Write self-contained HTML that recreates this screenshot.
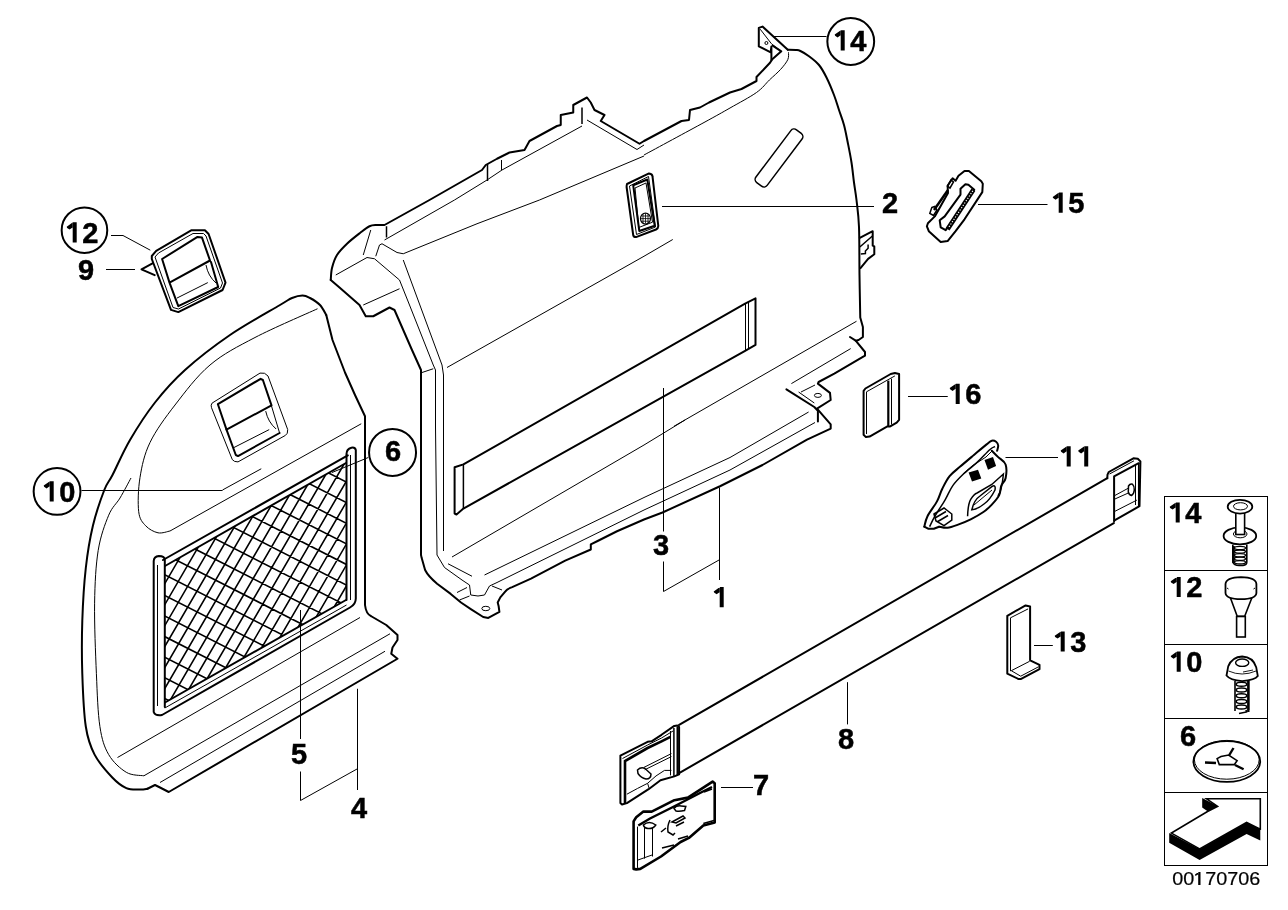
<!DOCTYPE html>
<html><head><meta charset="utf-8"><style>
html,body{margin:0;padding:0;background:#fff;width:1288px;height:910px;overflow:hidden}
svg{position:absolute;left:0;top:0;will-change:transform}
text{font-family:"Liberation Sans",sans-serif;font-weight:bold;fill:#000;stroke:#000;stroke-width:0.5}
.o{fill:none;stroke:#000;stroke-width:2;stroke-linejoin:round;stroke-linecap:round}
.i{fill:none;stroke:#000;stroke-width:1}
.t{fill:none;stroke:#000;stroke-width:1.5}
.k{fill:#000;stroke:none}
</style></head><body>
<svg width="1288" height="910" viewBox="0 0 1288 910">
<!-- CENTER PANEL (1) -->
<g id="center">
<path class="o" d="M330.75,280.00 C330.96,278.00 330.96,272.17 332.00,268.00 C333.04,263.83 334.50,259.04 337.00,255.00 C339.50,250.96 343.17,247.42 347.00,243.75 C350.83,240.08 356.25,235.92 360.00,233.00 C363.75,230.08 366.67,227.58 369.50,226.25 C372.33,224.92 374.50,225.21 377.00,225.00 C379.50,224.79 383.25,225.00 384.50,225.00 L429.5,200 L482,170 L485.75,165 L497,158.75 L509.5,152.5 L524.5,150 L529.5,141 L557,126 L560.75,125 L560.75,115 L573.25,112.5 L573.25,105 L587,97.5 L590.75,102.5 L594.5,110 L604.5,115 L600.75,121 L639.5,143.75 L644,141 L681.5,121 L689,120 L690,110 L700,107.5 L709,102.5 L730,92.5 L741.5,89 L756.5,81 L756.5,77 L770,62.8 L772,59.6 L781.3,51.3 L772.7,45.7"/>
<path class="o" d="M771.4,60 L771.4,46.4 L770.7,52.3 L758.8,46.4 L758.8,27.9 L762.5,26.6 L787.8,49.7"/>
<path class="o" d="M787.80,49.70 C789.13,49.75 793.70,49.78 795.80,50.00 C797.90,50.22 798.20,49.96 800.40,51.00 C802.60,52.04 805.90,53.92 809.00,56.25 C812.10,58.58 816.08,61.46 819.00,65.00 C821.92,68.54 824.00,72.50 826.50,77.50 C829.00,82.50 831.92,89.58 834.00,95.00 C836.08,100.42 837.33,105.00 839.00,110.00 C840.67,115.00 842.54,119.58 844.00,125.00 C845.46,130.42 846.50,136.25 847.75,142.50 C849.00,148.75 850.46,155.83 851.50,162.50 C852.54,169.17 853.17,176.25 854.00,182.50 C854.83,188.75 855.67,192.58 856.50,200.00 C857.33,207.42 858.50,214.50 859.00,227.00 C859.50,239.50 859.29,259.92 859.50,275.00 C859.71,290.08 860.12,310.42 860.25,317.50 L862.9,327 L862.9,337 L858.6,340 L855.7,340.7 L850,337"/>
<path class="o" d="M855.7,340.7 L865,352 L865,355.7 L834.3,373.6 L818.6,382 L817.9,383.6 L830,392.9 L830.7,400 L817,408.6 L830.7,424.3 L830.7,428.6 L807,439.7 L762.5,465 L720,486.25 L662.5,512.5 L644,519.5 L617,531.25 L597.6,541 L590.8,544.4 L590.8,549.5 L565.2,560.6 L531,578.6 L512.2,587.1 Q507,589 505.4,591.4 L500.3,597.4 L497.7,602.5 L498.6,605.9 L499.4,611.9 L488.3,617.9 L483.2,617 L471.2,609.3 L461,602.5 L450.7,593.9 L437.1,583.7 Q428,576 425.1,570 L421.7,558.1 L421,555 L421,370 L412,350 L394.5,310 L389.5,307.5 L373.25,316.25 L365.75,316.25 L359.5,305 L339.5,287.5 L330.75,280"/>
<path class="o" d="M786.4,389.3 L814.3,407 L817.9,410.7 L817.9,421.4"/>
<ellipse cx="817.9" cy="395.4" rx="3.5" ry="2" class="i"/>
<ellipse cx="485.8" cy="608.5" rx="4" ry="2.2" class="i"/>
<path class="i" d="M335.75,275 L367,257.5 L374.5,258.75 L399.5,280 L409.5,305 L433.25,365 L435.5,370 L435.5,427 L437,555 L444.5,567.5 L462,580 L469.5,585 L470.75,595 L478,596 L484.5,595 L489.5,586 L497,582.5 L644,510 L730,470 L815,422.5"/>
<path class="i" d="M363.25,305 L399.5,288.75"/>
<path class="i" d="M363.25,255 L370.75,230"/>
<path class="t" d="M386.5,226.25 L386.5,237.5"/>
<path class="i" d="M375.75,256.25 L379.5,245 L382,243.75 L397,252.5 L403.25,253.75 L477,223.75 L539.5,200 L644,156"/>
<path class="i" d="M403.25,260 L442,365 L443.5,375 L443.5,551"/>
<path class="i" d="M422,372.5 L433.25,368.75"/>
<path class="i" d="M384.5,240 L454.5,200 L487,180 L502,170 L582,126"/>
<path class="i" d="M788.50,52.30 C788.38,53.52 789.12,56.75 787.80,59.60 C786.48,62.45 783.67,66.00 780.60,69.40 C777.53,72.80 773.42,76.15 769.40,80.00 C765.38,83.85 763.07,87.83 756.50,92.50 C749.93,97.17 738.75,103.00 730.00,108.00 C721.25,113.00 718.33,114.67 704.00,122.50 C689.67,130.33 654.00,149.58 644.00,155.00"/>
<path class="t" d="M487.5,164 L487.5,181"/>
<path class="i" d="M501.5,160 L501.5,170"/>
<path class="t" d="M582,107.5 L582,124"/>
<path class="i" d="M587,120 L637,149.5 L644,145"/>
<path class="i" d="M447,367.5 L644,256.25 L672.75,239.5"/>
<path class="i" d="M452,557 L644,445 L685,420"/>
<path class="i" d="M448,563.75 L472,576.25"/>
<path class="i" d="M484.5,575 L644,497.5 L730,457.5 L808.6,412"/>
<path class="i" d="M457,592.5 L467,587.5 M459.5,600 L469.5,596 M492,586 L502,590"/>
<path class="i" d="M674,426.25 L856.5,321.25"/>
<path class="i" d="M791.4,383.6 L850.7,348.6"/>
<path class="i" d="M798.6,392 L814.3,403 M801,392 L815,385"/>

<path class="o" d="M859.8,237.8 L872.7,231.2 L872.7,245.7 L874.3,246.4 L874.3,254.3 L868.1,258.9 L860.5,268.1"/>
<path class="t" d="M859.8,247 L872.7,235.8 M868.1,244.4 L868.1,248.3 L865.4,251 L865.4,253.6 L860.8,253.9"/>
<rect x="-7" y="-33" width="14" height="66" rx="4" class="t" transform="translate(779,158) rotate(37)"/>
<path class="o" d="M463.4,464.4 L745.1,303.6 L755.5,298.3 L755.5,344.9 L745.1,350.8 L463.4,508.6 L456.5,514.5 L454.6,513.5 L454.6,467.3 Z"/>
<path class="t" d="M463.4,464.4 L463.4,508.6"/><path class="i" d="M745.5,303.6 L745.5,350.8 M748.5,302 L748.5,349"/>
<path class="i" d="M760.2,29.2 L771.4,43.7 L781.3,51.6"/>
<circle cx="766.4" cy="43" r="1.5" class="i"/>
<!-- item 2 -->
<path class="o" d="M627,184 L649,173.4 Q652.5,174 652.5,176.4 L658.3,226 Q658.3,228.3 656,229.5 L636,237.1 Q633.5,237 633.2,235 L626.6,187 Q626.6,185 627,184 Z"/>
<path class="i" d="M629.5,186 L648.5,176.5 L655.5,227 L636.5,234.5 Z"/>
<path class="o" d="M633.2,185.2 L647.3,179.5 L654.7,225.7 L639.3,231 Z"/>
<path class="i" d="M635,188 L646,183 L652.5,222.2 L638.8,227.5 Z"/>
<ellipse cx="645.5" cy="218.6" rx="5" ry="5.5" fill="#fff" stroke="#000" stroke-width="1.2"/><path d="M641.5,216 h8 M641,218.6 h9 M641.5,221.2 h8 M643,214 v9 M645.5,213.5 v10 M648,214 v9" stroke="#000" stroke-width="0.8" fill="none"/>
</g>
<!-- LEFT PANEL (4) -->
<g id="left">
<path class="o" d="M326.25,315.00 C325.21,313.33 322.71,307.83 320.00,305.00 C317.29,302.17 312.92,299.58 310.00,298.00 C307.08,296.42 305.50,295.50 302.50,295.50 C299.50,295.50 295.75,296.42 292.00,298.00 C288.25,299.58 290.33,298.83 280.00,305.00 C269.67,311.17 245.83,324.17 230.00,335.00 C214.17,345.83 197.50,358.75 185.00,370.00 C172.50,381.25 164.17,390.83 155.00,402.50 C145.83,414.17 137.08,427.92 130.00,440.00 C122.92,452.08 116.78,466.67 112.50,475.00 C108.22,483.33 107.57,481.53 104.30,490.00 C101.03,498.47 95.98,512.80 92.90,525.80 C89.82,538.80 87.57,552.17 85.80,568.00 C84.03,583.83 82.88,603.18 82.30,620.80 C81.72,638.42 81.72,656.08 82.30,673.70 C82.88,691.32 83.75,713.02 85.80,726.50 C87.85,739.98 90.18,746.10 94.60,754.60 C99.02,763.10 107.02,771.92 112.30,777.50 C117.58,783.08 121.68,786.10 126.30,788.10 C130.92,790.10 136.47,789.39 140.00,789.50 C143.53,789.61 146.25,788.88 147.50,788.75"/>
<path class="o" d="M326.25,315 L332.5,340 L345,372.5 L355,395 L365,416.25 L365,605 Q366,614 371.25,616.25 L386.25,625 L397.5,635 L397.5,640 L392.5,647.5 L391.25,653.75 L397.5,658.75 L168.75,792 L160,787.5 L155,785 L147.5,788.75"/>
<path class="i" d="M317.50,308.75 C307.08,313.54 272.92,328.12 255.00,337.50 C237.08,346.88 223.33,353.75 210.00,365.00 C196.67,376.25 185.00,392.08 175.00,405.00 C165.00,417.92 155.83,430.42 150.00,442.50 C144.17,454.58 141.88,465.97 140.00,477.50 C138.12,489.03 137.75,503.65 138.70,511.70 C139.65,519.75 142.48,522.28 145.70,525.80 C148.92,529.32 153.95,531.93 158.00,532.80 C162.05,533.67 168.00,531.30 170.00,531.00 L361.25,423.75"/>
<path class="i" d="M222.5,490 L261.25,468.75"/>
<path class="i" d="M131.00,478.00 C129.17,481.33 123.72,491.80 120.00,498.00 C116.28,504.20 112.33,506.47 108.70,515.20 C105.07,523.93 100.55,535.73 98.20,550.40 C95.85,565.07 94.90,582.65 94.60,603.20 C94.30,623.75 95.52,653.15 96.40,673.70 C97.28,694.25 97.85,713.02 99.90,726.50 C101.95,739.98 104.30,746.97 108.70,754.60 C113.10,762.23 120.43,768.77 126.30,772.30 C132.17,775.83 140.97,775.22 143.90,775.80 L390,633.75"/>
<path class="i" d="M117.5,757.5 L360,617.5"/>
<path class="i" d="M160,782.5 L385,651.25"/>
<!-- pocket -->
<path class="i" d="M212.1,403.1 L260,373.1 Q265,372 268,376 L287.7,429.6 Q288,434 285.4,435.4 L238,461.9 Q234,462 232.3,459.6 L211.5,407.7 Q210.5,405 212.1,403.1 Z"/>
<path class="o" d="M217.9,404.2 L260.6,378.8 L262.9,380 L271.5,405.4 L226.5,429.6 Z"/>
<path class="o" d="M226.5,429.6 L235.8,455 L238,456.1 L279.6,433"/><path class="i" d="M279.6,433 L271.5,406"/>
<path class="i" d="M234,447.5 L269.2,429.6 M265.7,411.1 Q268,422 276.1,429"/>
<!-- net -->
<clipPath id="netclip"><path d="M165,566 L346,463 L346,600 L165,702.5 Z"/></clipPath>
<path clip-path="url(#netclip)" d="M150,320.1 L360,427.2 M150,340.7 L360,447.8 M150,361.3 L360,468.4 M150,381.9 L360,489.0 M150,402.5 L360,509.6 M150,423.1 L360,530.2 M150,443.7 L360,550.8 M150,464.3 L360,571.4 M150,484.9 L360,592.0 M150,505.5 L360,612.6 M150,526.1 L360,633.2 M150,546.7 L360,653.8 M150,567.3 L360,674.4 M150,587.9 L360,695.0 M150,608.5 L360,715.6 M150,629.1 L360,736.2 M150,649.7 L360,756.8 M150,670.3 L360,777.4 M150,690.9 L360,798.0 M150,711.5 L360,818.6 M150,732.1 L360,839.2 M150,752.7 L360,859.8 M89.7,440 L-73.1,720 M101.9,440 L-60.9,720 M114.1,440 L-48.7,720 M126.3,440 L-36.5,720 M138.5,440 L-24.3,720 M150.7,440 L-12.1,720 M162.9,440 L0.1,720 M175.1,440 L12.3,720 M187.3,440 L24.5,720 M199.5,440 L36.7,720 M211.7,440 L48.9,720 M223.9,440 L61.1,720 M236.1,440 L73.3,720 M248.3,440 L85.5,720 M260.5,440 L97.7,720 M272.7,440 L109.9,720 M284.9,440 L122.1,720 M297.1,440 L134.3,720 M309.3,440 L146.5,720 M321.5,440 L158.7,720 M333.7,440 L170.9,720 M345.9,440 L183.1,720 M358.1,440 L195.3,720 M370.3,440 L207.5,720 M382.5,440 L219.7,720 M394.7,440 L231.9,720 M406.9,440 L244.1,720 M419.1,440 L256.3,720 M431.3,440 L268.5,720 M443.5,440 L280.7,720 M455.7,440 L292.9,720 M467.9,440 L305.1,720 M480.1,440 L317.3,720 M492.3,440 L329.5,720 M504.5,440 L341.7,720 M516.7,440 L353.9,720 M528.9,440 L366.1,720 M541.1,440 L378.3,720 M553.3,440 L390.5,720 M565.5,440 L402.7,720 M577.7,440 L414.9,720 M589.9,440 L427.1,720 M602.1,440 L439.3,720 M614.3,440 L451.5,720 M626.5,440 L463.7,720 M638.7,440 L475.9,720 M650.9,440 L488.1,720 M663.1,440 L500.3,720 M675.3,440 L512.5,720 M687.5,440 L524.7,720" fill="none" stroke="#000" stroke-width="1.6"/>
<path class="o" d="M165,566 L346,463 M165,702.5 L346,600"/>
<path class="o" d="M163,560 L347.8,455.4"/>
<path class="o" d="M153.7,712 L153.7,561 Q154,556.5 158.8,556 Q164.8,556 164.8,560 L164.8,707 M153.7,712 Q155,716 162,715 L350,607.5 Q356,604 355.8,598 L355.8,450 Q355,447 351.4,447.7 Q346.5,449 346.5,454 L346.5,600"/>
<path class="i" d="M157.5,565 L157.5,706 M350.5,455 L350.5,600 M164.8,708 L346.5,605"/>
</g>
<!-- item 12 / 9 -->
<g id="i12">
<path class="o" d="M151.8,256 L156.2,250.9 L191.6,230.2 L204.9,230.2 L208.6,234 L225.5,282.6 L222.6,290 L178.3,312.1 L171,309.9 L151.8,259 Z"/>
<path class="i" d="M155,257 L158.5,253 L193,233.5 L203.5,233.5 L206,236 L222.5,283 L220.5,288 L178.5,309 L173,307.5 Z"/>
<path class="o" d="M162.1,259 L197.5,236.9 L202,237.6 L210,260.5 L169.5,282.6 Z M169.5,282.6 L178.3,306.2 L218.2,287 L211,262"/>
<path class="i" d="M176.9,298.1 L207.8,282.6 M206,265 Q208,276 216,283"/>
<path class="o" d="M152.5,263.4 L141.5,269.3 L154.7,275.2"/>
</g>
<!-- item 15 -->
<g id="i15">
<path class="o" d="M958.5,175.8 L964.5,170.9 L968.9,170.9 L981.3,181.3 L982.8,183.7 L982.3,192.1 L964.5,219.3 L955.6,231.2 L947.6,241.1 L940.7,242.1 L928.8,231.2 L926.9,226.3 L927.9,223.3 L934.8,216.4 L948,193 L947.6,185.7 L952.6,178.3 L955.6,180.8 Z"/>
<path class="o" d="M960.5,188.7 L965.4,184.2 L968.4,184.7 L974.3,189.7 L945.7,230.2 L940.7,227.3 L939.7,220.3 L944.7,216.4 L960.5,194.6 Z"/>
<path d="M973.4,189.7 L947.6,229.2" stroke="#000" stroke-width="4.6" fill="none"/>
<path d="M972.8,190.8 L948.3,228" stroke="#fff" stroke-width="1.2" stroke-dasharray="1.2 1.6" fill="none"/>
<path class="t" d="M931.8,207.5 L934.8,206.5 L937,210 L933.5,215.5 L929.8,213.4 Z M951,180 L953.5,182 L950,188 L947.5,186 Z"/>
<path d="M934,210 L948,190" stroke="#000" stroke-width="2.5"/>
</g>
<!-- item 16 -->
<g id="i16">
<path class="o" d="M863.6,390.8 L865.4,388.5 L890.7,374 L894.9,373.1 L899.1,374 L899.1,419.8 L896.7,422.6 L890.2,426.4 L887.4,426.4 L869.6,436.6 L865.9,437.1 L863.6,434.8 Z"/>
<path class="i" d="M866.5,434 L866.5,391.8 L894.9,375.9 M891.5,378.7 L891.5,424.5"/>
<path d="M888.3,380.6 L888.3,426.4" stroke="#000" stroke-width="2.2"/>
</g>
<!-- item 11 -->
<g id="i11">
<path class="o" d="M924.30,526.70 C924.83,524.95 925.38,520.42 927.50,516.20 C929.62,511.98 934.53,505.98 937.00,501.40 C939.47,496.82 940.20,492.92 942.30,488.70 C944.40,484.48 946.62,479.78 949.60,476.10 C952.58,472.42 956.15,470.12 960.20,466.60 C964.25,463.08 969.50,458.70 973.90,455.00 C978.30,451.30 983.62,446.78 986.60,444.40 C989.58,442.02 990.22,441.13 991.80,440.70 C993.38,440.27 995.03,441.00 996.10,441.80 C997.17,442.60 998.03,444.00 998.20,445.50 C998.37,447.00 997.28,449.92 997.10,450.80"/>
<path class="o" d="M939.1,526.7 L933.8,528.8 L928.5,528.8 L924.3,526.7"/>
<path class="t" d="M929.60,526.70 C930.48,524.95 932.27,520.77 934.90,516.20 C937.53,511.63 942.42,504.40 945.40,499.30 C948.38,494.20 949.80,489.82 952.80,485.60 C955.80,481.38 959.35,477.87 963.40,474.00 C967.45,470.13 972.72,466.45 977.10,462.40 C981.48,458.35 986.72,452.35 989.70,449.70 C992.68,447.05 994.12,447.03 995.00,446.50"/>
<path class="o" d="M991.80,450.80 C992.87,451.85 995.90,454.82 998.20,457.10 C1000.50,459.38 1004.37,460.98 1005.60,464.50 C1006.83,468.02 1006.32,474.68 1005.60,478.20 C1004.88,481.72 1002.37,482.78 1001.30,485.60 C1000.23,488.42 1000.78,491.93 999.20,495.10 C997.62,498.27 994.43,501.78 991.80,504.60 C989.17,507.42 986.92,509.55 983.40,512.00 C979.88,514.45 974.92,517.20 970.70,519.30 C966.48,521.40 961.97,523.18 958.10,524.60 C954.23,526.02 950.67,527.45 947.50,527.80 C944.33,528.15 940.50,526.88 939.10,526.70"/>
<path class="i" d="M963,474 L972,466 L986,457 L992,451"/>
<path class="k" d="M984.5,460 L993,457.1 L996.1,466 L988,469.8 Z M968.6,472.5 L978,469.8 L981.3,478.5 L972,481.4 Z"/>
<path class="t" d="M967.6,516.2 Q968,504 970.7,499.3 Q974,494 977.1,493 L991.8,484.5 L1003.4,474 Q1002,490 998,496"/>
<path class="t" d="M971.8,509.8 Q974,500 980,496 L991.8,486.6 Q996,484 995,490 Q990,500 984,504 Q978,509 971.8,509.8 Z"/>
<path class="i" d="M974,505 L992,490"/>
<path class="t" d="M934,514 L944,508 L951.8,514 L951.8,520 L944,525.7 L936,521 Z M935,518 L946,511.5 M937,522 L948,515.5"/>
</g>
<!-- item 13 -->
<g id="i13">
<path class="o" d="M1007.3,615.8 L1025.6,605.4 L1030.1,606.4 L1030.1,660.3 L1039.5,664.8 L1039.5,669.2 L1020.7,679.1 L1018.7,679.1 L1007.3,673.7 Z"/>
<path class="i" d="M1010.5,671.2 L1010.5,617.8 L1028.1,608.9 M1011.3,670.7 L1029.6,661.3 M1020.7,676.2 L1038.5,666.8 M1011.3,670.7 L1020.7,676.2"/>
</g>
<!-- item 7 -->
<g id="i7">
<path d="M633.6,821.4 L636.2,817.3 L643.4,811.6 L651.7,811.6 L674.4,800.2 L687.9,797.6 L712.6,781.6 L714.7,783.2 L714.7,822.4 L703.3,825.5 L688.9,837.9 L680.6,842 L661,856.5 L640.3,868.9 L636.2,869.4 L633.6,868.9 Z" fill="none" stroke="#000" stroke-width="2.6" stroke-linejoin="round"/>
<path d="M638.3,825.5 L650,818.5 L673,807 L700,793 L712,787" fill="none" stroke="#000" stroke-width="2.4"/>
<path class="i" d="M637.5,826.6 L637.5,867.9 M644.5,826.6 L644.5,858.6 M652.5,827.6 L652.5,856.5 M638,860 L652,855"/>
<path class="t" d="M643.4,825 Q649,820 655.8,825 Q653,829 648,828.5 Q644,828 643.4,825 Z"/>
<path class="t" d="M674,808.5 Q676,805.5 681,805.9 L685.8,806.5 L684.5,810.5 Q680,811.5 676,811 Z"/>
<path class="t" d="M670,820 Q667,826 668,832 L673,835 L675,833 M672,822 L683,816 L685,818 L676,823 Z M661,832 L666,828 M676,826 L684,822"/>
<path class="t" d="M704,792 L712,789 M703.3,823.5 L714,820.5 M678,839 L688,836 M662,848 L674,845"/>
</g>
<!-- item 8 strap -->
<g id="i8">
<path class="o" d="M679.1,724.9 L1107.3,478.2"/>
<path class="o" d="M679.1,773.1 L1113.8,523.1"/>
<path class="o" d="M620.4,755.6 L647.6,741.8 L651.6,741.3 L661.5,734.8 L674.3,725.9 L677.3,725.4 L679.1,726.9 L679.1,774.4 L674.3,776.4 L660.5,780.3 L648.6,789.2 L626.9,803.1 L622,804.5 L620.4,803 Z"/>
<path d="M625,803 L625,761 L647.6,748 L661.5,741.3 L670.4,736.8" fill="none" stroke="#000" stroke-width="2.6"/>
<path class="i" d="M622.5,758.5 L647.6,745 L661.5,738 L673,731"/>
<path class="i" d="M670.5,731 L670.5,775.4"/>
<path class="t" d="M673.9,728 L673.9,776.5"/>
<path d="M677.5,727 L677.5,775" stroke="#000" stroke-width="2"/>
<path class="i" d="M643.7,767.5 L671.4,753.6 M644.7,769.8 L671.4,756.6"/>
<path class="t" d="M637.5,770 Q641,766.5 645,768.5 L651,774 Q651,779 646,779 Q641,778 638,773.5 Z"/>
<path class="i" d="M626.9,794.2 Q638,788 647.6,783.3 Q656,775 664.5,770.4 L671.4,770.4 M647.6,783.3 L649.1,788.2"/>
<path class="o" d="M1107.3,478.2 L1107.5,474.6 L1108.8,472 L1133.4,458.3 L1137.8,458.8 L1140.4,461.4 L1139.5,506.2 L1114.5,520.3"/>
<path class="o" d="M1114.1,521.5 L1114.1,476.4 L1138.7,463.2"/>
<path class="i" d="M1109.5,474 L1134,460.8 M1135.5,464 L1135.5,505 M1114.5,511.5 L1136.9,500.1"/>
<path class="t" d="M1138.7,463 L1138.7,506"/>
<path class="i" d="M1114.5,495.7 L1129,487.8 M1114.5,499.2 L1128.1,493.1"/>
<path class="t" d="M1128.5,486 Q1130,483.5 1132.5,484.2 Q1134.5,486 1134.3,490 Q1134,494 1131.5,495.5 Q1129,495 1128.3,492 Z"/>
</g>
<!-- legend -->
<g id="legend" shape-rendering="crispEdges">
<path d="M1164.5,496.5 H1267.5 V865.5 H1164.5 Z M1164.5,570.5 H1267.5 M1164.5,644.5 H1267.5 M1164.5,718.5 H1267.5 M1164.5,792.5 H1267.5" fill="none" stroke="#000" stroke-width="1"/>
</g>
<g id="legicons">
<!-- 14 rivet -->
<path d="M1232.8,544.8 L1232.8,562 Q1234,565.4 1239,565.4 L1243,565.4 Q1246.8,565 1246.8,562 L1246.8,544.8" fill="#fff" stroke="#000" stroke-width="1.6"/>
<path d="M1233.5,546 L1233.5,563" stroke="#000" stroke-width="2.6"/>
<g fill="none" stroke="#000" stroke-width="1.3">
<ellipse cx="1240" cy="548" rx="5.5" ry="1.6"/><ellipse cx="1240" cy="551.6" rx="5.5" ry="1.6"/><ellipse cx="1240" cy="555.2" rx="5.5" ry="1.6"/><ellipse cx="1240" cy="558.8" rx="5.5" ry="1.6"/><ellipse cx="1240" cy="562.3" rx="5.5" ry="1.6"/>
</g>
<ellipse cx="1239.9" cy="535.9" rx="16.3" ry="8.5" fill="#fff" stroke="#000" stroke-width="1.8"/>
<ellipse cx="1240.2" cy="534" rx="6.8" ry="3.8" fill="#fff" stroke="#000" stroke-width="1"/>
<rect x="1235.8" y="513" width="8.8" height="21.5" fill="#fff" stroke="#000" stroke-width="1.6"/>
<ellipse cx="1240" cy="506.7" rx="12.3" ry="6.9" fill="#fff" stroke="#000" stroke-width="1.8"/>
<ellipse cx="1240.5" cy="506.3" rx="7" ry="3.6" fill="none" stroke="#000" stroke-width="1"/>
<!-- 12 plug -->
<path d="M1230.2,597.2 L1237.2,616.3 L1244.7,616.3 L1252.1,597.2" fill="#fff" stroke="#000" stroke-width="1.6"/>
<rect x="1236.6" y="616.5" width="8.7" height="20.5" fill="#fff" stroke="#000" stroke-width="1.6"/>
<path d="M1225.5,584 Q1226,577.5 1241,577.2 Q1256,577.5 1256.4,584 L1256.4,593 Q1256,599.2 1241,599.2 Q1226,599.2 1225.5,593 Z" fill="#fff" stroke="#000" stroke-width="1.8"/><path d="M1227,588 l1.5,1 M1255,588 l-1.5,1" stroke="#000" stroke-width="1"/>
<!-- 10 screw -->
<path d="M1235,681 L1235,711 M1248.6,681 L1248.6,710" stroke="#000" stroke-width="1.6" fill="none"/>
<path d="M1248.3,681 L1248.3,712" stroke="#000" stroke-width="2.4"/>
<g fill="none" stroke="#000" stroke-width="1.5">
<ellipse cx="1241.5" cy="684.2" rx="5.3" ry="2"/><ellipse cx="1241.5" cy="690" rx="5.3" ry="2"/><ellipse cx="1241.5" cy="695.7" rx="5.3" ry="2"/><ellipse cx="1241.5" cy="701.4" rx="5.3" ry="2"/><ellipse cx="1241.5" cy="707.1" rx="5.3" ry="2"/>
</g>
<path d="M1239,713.5 L1246.5,712 L1246,710" stroke="#000" stroke-width="1.6" fill="none"/>
<path d="M1226.5,675.5 L1228.2,666.4 Q1232,657 1242.2,656.5 Q1253,657 1256.2,667.2 L1257.8,676 Q1255,680 1242.2,681.2 Q1230,680 1226.5,675.5 Z" fill="#fff" stroke="#000" stroke-width="1.8"/>
<ellipse cx="1242.2" cy="662.7" rx="6.6" ry="3.7" fill="none" stroke="#000" stroke-width="1.4"/>
<path d="M1228.5,671 Q1242,677 1256,671 M1243,672 L1253,670" fill="none" stroke="#000" stroke-width="0.9"/>
<!-- 6 washer -->
<ellipse cx="1226.8" cy="761.5" rx="33.4" ry="20.4" fill="#fff" stroke="#000" stroke-width="1.8"/>
<ellipse cx="1226.8" cy="759.8" rx="32.4" ry="19.4" fill="none" stroke="#000" stroke-width="1"/>
<path d="M1217.1,758.6 L1221,756.5 L1228.6,755 L1237.1,760.7 L1234.3,764.6 L1219.3,764.6 Z" fill="none" stroke="#000" stroke-width="1.6"/>
<path d="M1205,762.5 L1216,763" stroke="#000" stroke-width="2.4"/>
<path d="M1229.3,755 L1233.5,748" stroke="#000" stroke-width="2.4"/>
<path d="M1235,765 L1243.6,769.3" stroke="#000" stroke-width="2.4"/>
<!-- arrow -->
<path d="M1169.2,833.1 L1199.6,848.9 L1246.6,822.5 L1260.3,829.1 L1260.3,840.6 L1246.6,834 L1199.6,859.9 L1169.2,842.8 Z" fill="#000"/>
<path d="M1202.2,797.9 L1218,806.3 L1207.9,811.5 L1202.2,807.6 Z" fill="#000"/>
<path d="M1206.6,798.8 L1260.3,798.8 L1260.3,829.1 L1246.6,822.5 L1199.6,848.9 L1171.4,833.1 L1207.5,811.5 L1217.6,806.3 Z" fill="#fff" stroke="#000" stroke-width="1.6" stroke-linejoin="miter"/>
</g>
<text x="1172.3" y="884.7" font-size="18" style="font-weight:normal;stroke-width:0.2" textLength="88" lengthAdjust="spacingAndGlyphs">00<tspan style="fill:none;stroke:none">1</tspan>70706</text>
<g id="labels">
<path class="i" d="M774,36.5 L826.5,36.5"/>
<circle cx="850.75" cy="41.5" r="23.4" fill="none" stroke="#000" stroke-width="2"/>
<text x="834" y="50.7" font-size="29"><tspan style="fill:none;stroke:none">1</tspan>4</text>
<path class="i" d="M662,206.5 L874,206.5"/>
<text x="882" y="213" font-size="29">2</text>
<path class="i" d="M663.5,388 L663.5,531.5 M663.5,561.5 L663.5,591.5 L719,560"/>
<text x="653" y="555" font-size="29">3</text>
<path class="i" d="M719.5,487.5 L719.5,580"/>
<text x="713" y="607.5" font-size="29"><tspan style="fill:none;stroke:none">1</tspan></text>
<circle cx="392.55" cy="452.4" r="23.5" fill="none" stroke="#000" stroke-width="2"/>
<text x="385" y="460.8" font-size="29">6</text>
<path class="i" d="M368.25,457.5 L332,472.5"/>
<path class="i" d="M908,396.5 L947.75,396.5"/>
<text x="949" y="404.2" font-size="29"><tspan style="fill:none;stroke:none">1</tspan>6</text>
<path class="i" d="M978,204.5 L1047.5,204.5"/>
<text x="1052" y="213" font-size="29"><tspan style="fill:none;stroke:none">1</tspan>5</text>
<circle cx="84.45" cy="230.2" r="22.8" fill="none" stroke="#000" stroke-width="2"/>
<text x="66" y="242.8" font-size="29"><tspan style="fill:none;stroke:none">1</tspan>2</text>
<path class="i" d="M111,235.5 L123,235.5 L150.3,250.2"/>
<text x="78" y="279.7" font-size="29">9</text>
<path class="i" d="M106,269.5 L135,269.5"/>
<circle cx="57.05" cy="491.45" r="23.4" fill="none" stroke="#000" stroke-width="2"/>
<text x="43" y="501.7" font-size="29"><tspan style="fill:none;stroke:none">1</tspan>0</text>
<path class="i" d="M81.5,490.5 L222.5,490.5"/>
<path class="i" d="M300.5,610 L300.5,739 M300.5,771.5 L300.5,800.5 L357,769"/>
<text x="291" y="763.75" font-size="29">5</text>
<path class="i" d="M357.5,688.75 L357.5,790"/>
<text x="351" y="817.5" font-size="29">4</text>
<path class="i" d="M847.5,682.2 L847.5,724.4"/>
<text x="838" y="748.8" font-size="29">8</text>
<path class="i" d="M721,787.5 L753,787.5"/>
<text x="753" y="794.8" font-size="29">7</text>
<path class="i" d="M1005.5,457.5 L1058,457.5"/>
<text x="1060" y="465.7" font-size="29"><tspan style="fill:none;stroke:none">1</tspan><tspan style="fill:none;stroke:none">1</tspan></text>
<path class="i" d="M1034,645.5 L1052.8,645.5"/>
<text x="1054" y="651.9" font-size="29"><tspan style="fill:none;stroke:none">1</tspan>3</text>
<text x="1169" y="522.9" font-size="29"><tspan style="fill:none;stroke:none">1</tspan>4</text>
<text x="1170" y="597.4" font-size="29"><tspan style="fill:none;stroke:none">1</tspan>2</text>
<text x="1170" y="672" font-size="29"><tspan style="fill:none;stroke:none">1</tspan>0</text>
<text x="1180" y="746.1" font-size="29">6</text>
</g>
<g id="ones">
<path class="k" d="M1198.2,872 h2.3 v13 h-2.3 Z M1198.4,872 L1195,874.5 L1195.4,875.9 L1198.4,874.3 Z"/>
<path class="k" d="M840.70,30.20 h4 v20.2 h-4 Z M840.90,30.20 L834.70,34.60 L835.10,35.80 L837.60,37.40 L840.90,35.10 Z"/>
<path class="k" d="M719.70,587.00 h4 v20.2 h-4 Z M719.90,587.00 L713.70,591.40 L714.10,592.60 L716.60,594.20 L719.90,591.90 Z"/>
<path class="k" d="M955.70,383.70 h4 v20.2 h-4 Z M955.90,383.70 L949.70,388.10 L950.10,389.30 L952.60,390.90 L955.90,388.60 Z"/>
<path class="k" d="M1058.70,192.50 h4 v20.2 h-4 Z M1058.90,192.50 L1052.70,196.90 L1053.10,198.10 L1055.60,199.70 L1058.90,197.40 Z"/>
<path class="k" d="M72.70,222.30 h4 v20.2 h-4 Z M72.90,222.30 L66.70,226.70 L67.10,227.90 L69.60,229.50 L72.90,227.20 Z"/>
<path class="k" d="M49.70,481.20 h4 v20.2 h-4 Z M49.90,481.20 L43.70,485.60 L44.10,486.80 L46.60,488.40 L49.90,486.10 Z"/>
<path class="k" d="M1066.70,446.20 h4 v20.2 h-4 Z M1066.90,446.20 L1060.70,450.60 L1061.10,451.80 L1063.60,453.40 L1066.90,451.10 Z"/>
<path class="k" d="M1084.23,446.20 h4 v20.2 h-4 Z M1084.43,446.20 L1078.23,450.60 L1078.63,451.80 L1081.13,453.40 L1084.43,451.10 Z"/>
<path class="k" d="M1060.70,631.40 h4 v20.2 h-4 Z M1060.90,631.40 L1054.70,635.80 L1055.10,637.00 L1057.60,638.60 L1060.90,636.30 Z"/>
<path class="k" d="M1175.70,502.40 h4 v20.2 h-4 Z M1175.90,502.40 L1169.70,506.80 L1170.10,508.00 L1172.60,509.60 L1175.90,507.30 Z"/>
<path class="k" d="M1176.70,576.90 h4 v20.2 h-4 Z M1176.90,576.90 L1170.70,581.30 L1171.10,582.50 L1173.60,584.10 L1176.90,581.80 Z"/>
<path class="k" d="M1176.70,651.50 h4 v20.2 h-4 Z M1176.90,651.50 L1170.70,655.90 L1171.10,657.10 L1173.60,658.70 L1176.90,656.40 Z"/>
</g>
</svg>
</body></html>
